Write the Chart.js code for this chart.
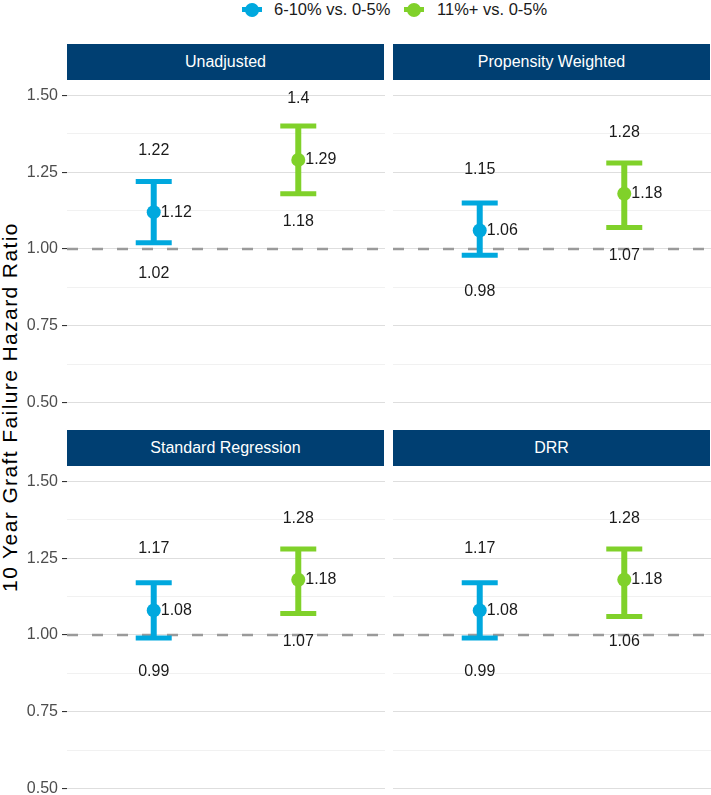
<!DOCTYPE html>
<html>
<head>
<meta charset="utf-8">
<script src="https://cdn.jsdelivr.net/npm/chart.js@4/dist/chart.umd.min.js"></script>
<style>
  html, body { margin: 0; padding: 0; background: #fff; }
  body { width: 711px; height: 795px; overflow: hidden; position: relative;
         font-family: "Liberation Sans", Arial, Helvetica, sans-serif; }
  .strip { position: absolute; background: #003F72; color: #fff; font-size: 16px;
           display: flex; align-items: center; justify-content: center; }
  .panel { position: absolute; }
  #legend { position: absolute; top: 0; left: 0; width: 711px; height: 20px; font-size: 16.5px; color: #1a1a1a; }
  .key { position: absolute; top: 0; width: 20px; height: 18px; }
  .key .bar { position: absolute; left: 0; top: 7px; width: 20px; height: 5px; }
  .key .dot { position: absolute; left: 3px; top: 3px; width: 14px; height: 14px; border-radius: 50%; }
  .ltext { position: absolute; top: 0; line-height: 18px; }
  #ytitle { position: absolute; left: 10px; top: 407px; font-size: 21px; letter-spacing: 1.4px; color: #000;
            transform: translate(-50%, -50%) rotate(-90deg); white-space: nowrap; }
</style>
</head>
<body>
<div id="legend"></div>
<div id="ytitle">10 Year Graft Failure Hazard Ratio</div>

<script>
// Data
const panels = ['Unadjusted', 'Propensity Weighted', 'Standard Regression', 'DRR'];
const seriesNames = ['6-10% vs. 0-5%', '11%+ vs. 0-5%'];
const seriesColors = ['#00A8DE', '#80D12A'];

const estBlue = [1.12, 1.06, 1.08, 1.08];
const lowBlue = [1.02, 0.98, 0.99, 0.99];
const highBlue = [1.22, 1.15, 1.17, 1.17];

const estGreen = [1.29, 1.18, 1.18, 1.18];
const lowGreen = [1.18, 1.07, 1.07, 1.06];
const highGreen = [1.4, 1.28, 1.28, 1.28];

const yTicks = [0.5, 0.75, 1.0, 1.25, 1.5];
const refLine = 1.0;

// panel boxes (left, top, width) for the plot canvases, strips sit above
const boxes = [
  { left: 0, top: 80, width: 385, strip: 44, axis: true },
  { left: 393, top: 80, width: 318, strip: 44, axis: false },
  { left: 0, top: 465.5, width: 385, strip: 429.5, axis: true },
  { left: 393, top: 465.5, width: 318, strip: 429.5, axis: false },
];
const PANEL_H = 338;
const AXIS_W = 67;
const LABEL_OFFSET = 0.2;

// Legend
const legend = document.getElementById('legend');
const legendPos = [{ key: 242, text: 274 }, { key: 404, text: 437 }];
seriesNames.forEach((name, i) => {
  const k = document.createElement('div');
  k.className = 'key';
  k.style.left = legendPos[i].key + 'px';
  k.innerHTML = '<div class="bar" style="background:' + seriesColors[i] + '"></div>' +
                '<div class="dot" style="background:' + seriesColors[i] + '"></div>';
  legend.appendChild(k);
  const t = document.createElement('div');
  t.className = 'ltext';
  t.style.left = legendPos[i].text + 'px';
  t.textContent = name;
  legend.appendChild(t);
});

const isMajor = (v) => Math.abs(v * 4 - Math.round(v * 4)) < 1e-6;

// Draws the value labels next to each error bar
const labelPlugin = {
  id: 'ciLabels',
  afterDatasetsDraw(chart, args, opts) {
    const ctx = chart.ctx;
    const xs = chart.scales.x, ys = chart.scales.y;
    ctx.save();
    ctx.font = '16px "Liberation Sans", Arial, sans-serif';
    ctx.fillStyle = '#1a1a1a';
    ctx.textBaseline = 'middle';
    opts.groups.forEach((g) => {
      const px = xs.getPixelForValue(g.x);
      ctx.textAlign = 'center';
      ctx.fillText(String(g.high), px, ys.getPixelForValue(g.est + LABEL_OFFSET));
      ctx.fillText(String(g.low), px, ys.getPixelForValue(g.est - LABEL_OFFSET));
      ctx.textAlign = 'left';
      ctx.fillText(String(g.est), px + 7, ys.getPixelForValue(g.est));
    });
    ctx.restore();
  }
};

panels.forEach((title, p) => {
  const b = boxes[p];

  const strip = document.createElement('div');
  strip.className = 'strip';
  strip.style.left = (b.left + (b.axis ? AXIS_W : 0)) + 'px';
  strip.style.top = b.strip + 'px';
  strip.style.width = (b.width - (b.axis ? AXIS_W : 0) - 1) + 'px';
  strip.style.height = '36px';
  strip.textContent = title;
  document.body.appendChild(strip);

  const wrap = document.createElement('div');
  wrap.className = 'panel';
  wrap.style.left = b.left + 'px';
  wrap.style.top = b.top + 'px';
  wrap.style.width = b.width + 'px';
  wrap.style.height = PANEL_H + 'px';
  const canvas = document.createElement('canvas');
  wrap.appendChild(canvas);
  document.body.appendChild(wrap);

  const groups = [
    { x: 1, est: estBlue[p], low: lowBlue[p], high: highBlue[p], color: seriesColors[0] },
    { x: 2, est: estGreen[p], low: lowGreen[p], high: highGreen[p], color: seriesColors[1] },
  ];

  const datasets = [];
  groups.forEach((g) => {
    datasets.push({
      data: [{ x: g.x, y: g.est }],
      showLine: false,
      pointRadius: 7,
      pointBackgroundColor: g.color,
      pointBorderWidth: 0,
      order: 0,
    });
    datasets.push({
      data: [{ x: g.x, y: g.low }, { x: g.x, y: g.high }],
      showLine: true,
      borderColor: g.color,
      borderWidth: 6,
      pointStyle: 'line',
      pointRadius: 18,
      pointBorderWidth: 5,
      pointBorderColor: g.color,
      order: 1,
    });
  });
  datasets.push({
    data: [{ x: 0.4, y: refLine }, { x: 2.6, y: refLine }],
    showLine: true,
    borderColor: '#9a9a9a',
    borderWidth: 2.5,
    borderDash: [11, 14],
    pointRadius: 0,
    order: 2,
  });

  new Chart(canvas, {
    type: 'scatter',
    data: { datasets: datasets },
    plugins: [labelPlugin],
    options: {
      responsive: true,
      maintainAspectRatio: false,
      animation: false,
      events: [],
      layout: { padding: 0, autoPadding: false },
      plugins: {
        legend: { display: false },
        tooltip: { enabled: false },
        ciLabels: { groups: groups },
      },
      scales: {
        x: { type: 'linear', min: 0.4, max: 2.6, display: false },
        y: {
          type: 'linear',
          min: 0.45,
          max: 1.55,
          afterFit: (scale) => {
            scale.width = b.axis ? AXIS_W : 0;
            scale.paddingTop = 0;
            scale.paddingBottom = 0;
          },
          border: { display: false },
          grid: {
            color: (c) => isMajor(c.tick.value) ? '#dedede' : '#f1f1f1',
            lineWidth: 1.1,
            drawTicks: b.axis,
            tickLength: 5,
            tickColor: (c) => isMajor(c.tick.value) ? '#333333' : 'rgba(0,0,0,0)',
          },
          ticks: {
            display: b.axis,
            stepSize: 0.125,
            includeBounds: false,
            autoSkip: false,
            padding: 4,
            color: '#4d4d4d',
            font: { size: 16, family: '"Liberation Sans", Arial, sans-serif' },
            callback: (v) => (isMajor(v) && yTicks.some((t) => Math.abs(t - v) < 1e-6)) ? v.toFixed(2) : '',
          },
        },
      },
    },
  });
});
</script>
</body>
</html>
